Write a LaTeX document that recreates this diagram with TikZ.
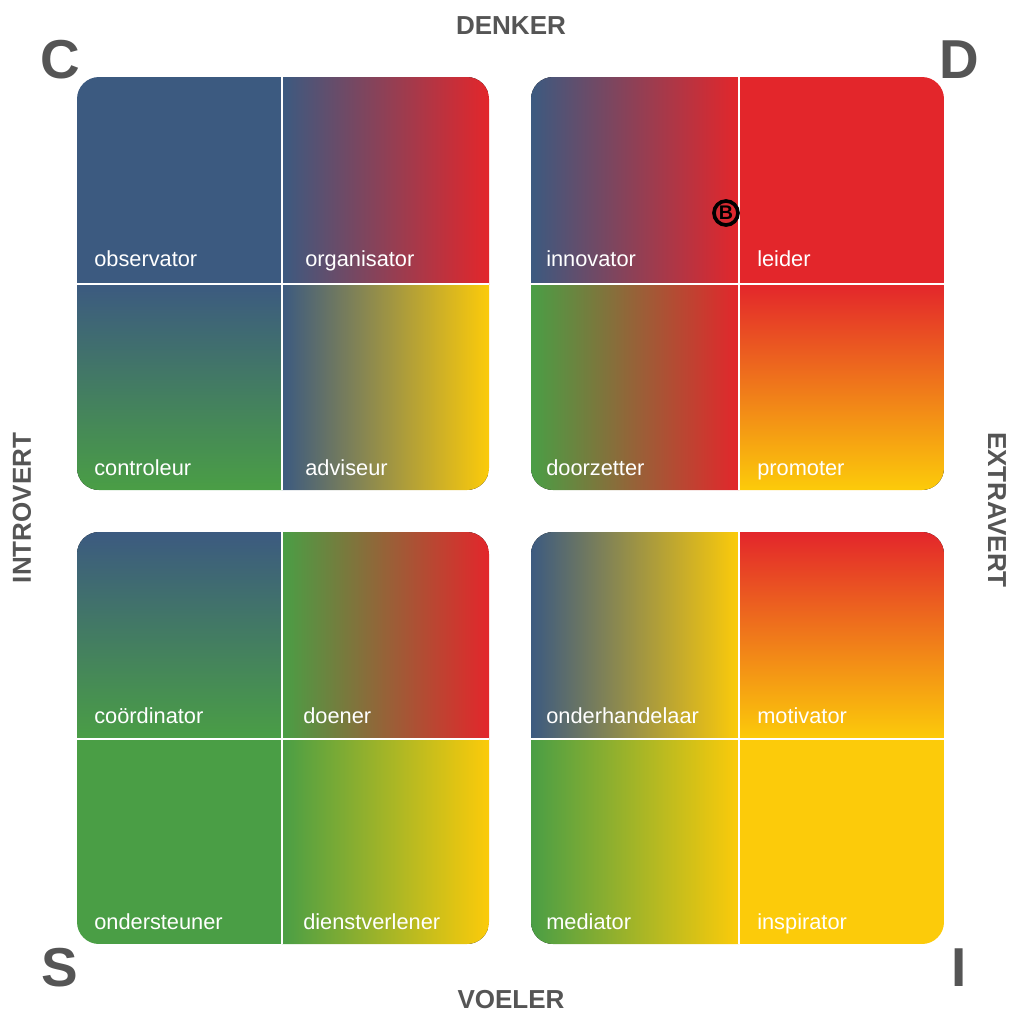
\documentclass[tikz,border=0pt]{standalone}
\usepackage{fontspec}
\setmainfont{Liberation Sans}
\usetikzlibrary{calc}
\definecolor{discblue}{HTML}{3C5A80}
\definecolor{discred}{HTML}{E3262B}
\definecolor{discgreen}{HTML}{4A9E45}
\definecolor{discyellow}{HTML}{FCCB0A}
\definecolor{axisgray}{HTML}{555555}
\tikzset{
	celltext/.style={anchor=base west, text=white, inner sep=0pt, font=\fontsize{15.5}{18}\selectfont},
	axistext/.style={text=axisgray, inner sep=0pt, font=\bfseries\fontsize{18.5}{22}\selectfont},
	cornertext/.style={text=axisgray, inner sep=0pt, font=\bfseries\fontsize{39}{44}\selectfont},
	divider/.style={white, line width=2pt},
	quadclip/.style={rounded corners=0.55cm}
}

\begin{document}
\begin{tikzpicture}[x=0.025cm, y=-0.025cm]
		%%%%% START %%%%%
		\useasboundingbox (0, 0) rectangle (1012, 1015);
		
		% C quadrant
		\begin{scope}
			\clip[quadclip] (77, 77) rectangle (489, 490);
			\fill[discblue] (77, 77) rectangle (282, 284);
			\fill[left color=discblue, right color=discred] (282, 77) rectangle (489, 284);
			\fill[top color=discblue, bottom color=discgreen] (77, 284) rectangle (282, 490);
			\fill[left color=discblue, right color=discyellow] (282, 284) rectangle (489, 490);
		\end{scope}
		\coordinate (cTop) at (282, 77);
		\coordinate (cBot) at (282, 490);
		\coordinate (cLeft) at (77, 284);
		\coordinate (cRight) at (489, 284);
		\draw[divider] (cTop) -- (cBot);
		\draw[divider] (cLeft) -- (cRight);
		
		% D quadrant
		\begin{scope}
			\clip[quadclip] (531, 77) rectangle (944, 490);
			\fill[left color=discblue, right color=discred] (531, 77) rectangle (739, 284);
			\fill[discred] (739, 77) rectangle (944, 284);
			\fill[left color=discgreen, right color=discred] (531, 284) rectangle (739, 490);
			\fill[top color=discred, bottom color=discyellow] (739, 284) rectangle (944, 490);
		\end{scope}
		\coordinate (dTop) at (739, 77);
		\coordinate (dBot) at (739, 490);
		\coordinate (dLeft) at (531, 284);
		\coordinate (dRight) at (944, 284);
		\draw[divider] (dTop) -- (dBot);
		\draw[divider] (dLeft) -- (dRight);
		
		% S quadrant
		\begin{scope}
			\clip[quadclip] (77, 532) rectangle (489, 944);
			\fill[top color=discblue, bottom color=discgreen] (77, 532) rectangle (282, 739);
			\fill[left color=discgreen, right color=discred] (282, 532) rectangle (489, 739);
			\fill[discgreen] (77, 739) rectangle (282, 944);
			\fill[left color=discgreen, right color=discyellow] (282, 739) rectangle (489, 944);
		\end{scope}
		\coordinate (sTop) at (282, 532);
		\coordinate (sBot) at (282, 944);
		\coordinate (sLeft) at (77, 739);
		\coordinate (sRight) at (489, 739);
		\draw[divider] (sTop) -- (sBot);
		\draw[divider] (sLeft) -- (sRight);
		
		% I quadrant
		\begin{scope}
			\clip[quadclip] (531, 532) rectangle (944, 944);
			\fill[left color=discblue, right color=discyellow] (531, 532) rectangle (739, 739);
			\fill[top color=discred, bottom color=discyellow] (739, 532) rectangle (944, 739);
			\fill[left color=discgreen, right color=discyellow] (531, 739) rectangle (739, 944);
			\fill[discyellow] (739, 739) rectangle (944, 944);
		\end{scope}
		\coordinate (iTop) at (739, 532);
		\coordinate (iBot) at (739, 944);
		\coordinate (iLeft) at (531, 739);
		\coordinate (iRight) at (944, 739);
		\draw[divider] (iTop) -- (iBot);
		\draw[divider] (iLeft) -- (iRight);
		
		% cell labels
		\node[celltext] (observator) at (94, 266) {observator};
		\node[celltext] (organisator) at (305, 266) {organisator};
		\node[celltext] (controleur) at (94, 475) {controleur};
		\node[celltext] (adviseur) at (305, 475) {adviseur};
		
		\node[celltext] (innovator) at (546, 266) {innovator};
		\node[celltext] (leider) at (757, 266) {leider};
		\node[celltext] (doorzetter) at (546, 475) {doorzetter};
		\node[celltext] (promoter) at (757, 475) {promoter};
		
		\node[celltext] (coordinator) at (94, 723) {coördinator};
		\node[celltext] (doener) at (303, 723) {doener};
		\node[celltext] (ondersteuner) at (94, 929) {ondersteuner};
		\node[celltext] (dienstverlener) at (303, 929) {dienstverlener};
		
		\node[celltext] (onderhandelaar) at (546, 723) {onderhandelaar};
		\node[celltext] (motivator) at (757, 723) {motivator};
		\node[celltext] (mediator) at (546, 929) {mediator};
		\node[celltext] (inspirator) at (757, 929) {inspirator};
		
		% marker
		\node[draw=black, circle, line width=2.6pt, minimum size=0.6cm, inner sep=0pt,
			font=\bfseries\fontsize{14}{14}\selectfont] (marker) at (726, 213) {B};
		
		% axes
		\node[axistext] (denker) at (511, 26) {DENKER};
		\node[axistext] (voeler) at (511, 1000) {VOELER};
		\node[axistext, rotate=90] (introvert) at (22, 508) {INTROVERT};
		\node[axistext, rotate=-90] (extravert) at (997, 510) {EXTRAVERT};
		
		% corners
		\node[cornertext] (letterC) at (60, 60) {C};
		\node[cornertext] (letterD) at (959, 60) {D};
		\node[cornertext] (letterS) at (60, 968) {S};
		\node[cornertext] (letterI) at (959, 968) {I};
		%%%%% END %%%%%
	\end{tikzpicture}
\end{document}
